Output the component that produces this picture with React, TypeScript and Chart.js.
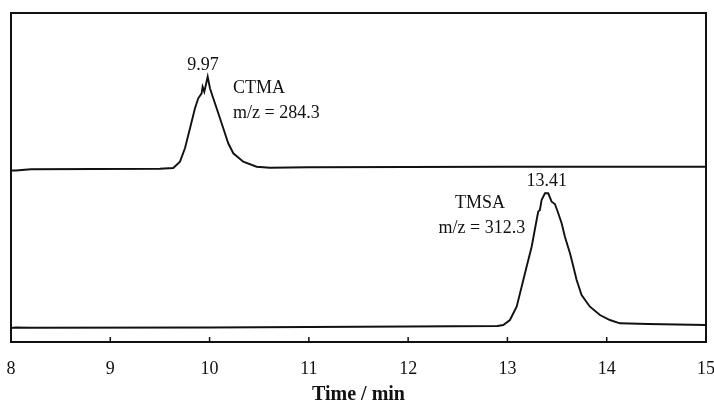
import React, { useEffect, useRef } from "react";
import { Chart, registerables } from "chart.js";

Chart.register(...registerables);

// Top trace: CTMA, m/z = 284.3
const timeTop = [8.0, 8.05, 8.2, 9.5, 9.634, 9.702, 9.752, 9.803, 9.853, 9.886, 9.92, 9.93, 9.947, 9.981, 10.004, 10.037, 10.088, 10.138, 10.188, 10.239, 10.339, 10.474, 10.608, 11.0, 12.0, 13.0, 15.0];
const intensityTop = [171.5, 171.5, 172.7, 173.2, 174, 180.3, 193.7, 213.7, 233.7, 243.7, 248.7, 255.3, 250.3, 265.3, 253.7, 243.7, 228.7, 213.7, 198.7, 188.7, 180.3, 175.3, 174.3, 174.7, 175, 175.2, 175.3];

// Bottom trace: TMSA, m/z = 312.3
const timeBottom = [8.0, 8.05, 8.2, 10.0, 11.0, 12.0, 12.9, 12.958, 13.025, 13.093, 13.143, 13.193, 13.244, 13.294, 13.31, 13.327, 13.344, 13.378, 13.411, 13.445, 13.478, 13.512, 13.546, 13.579, 13.63, 13.66, 13.697, 13.747, 13.831, 13.932, 14.032, 14.133, 14.418, 15.0];
const intensityBottom = [14, 14.5, 14.3, 14.5, 15, 15.5, 16, 17, 22, 35.3, 55.3, 75.3, 95.3, 122, 130.3, 132, 142, 148.7, 148.7, 140.3, 138, 128.7, 118.7, 105.3, 88.7, 77, 62, 47, 35.3, 27, 22, 18.7, 18, 17];

const xTicks = [8, 9, 10, 11, 12, 13, 14, 15];

// Annotations
const noteTexts = ["9.97", "CTMA", "m/z = 284.3", "TMSA", "m/z = 312.3", "13.41"];
const noteTimes = [9.934, 10.236, 10.236, 12.723, 12.743, 13.395];
const noteIntensities = [277, 254, 229, 139, 114, 160.3];
const noteAligns = ["center", "left", "left", "center", "center", "center"];

const SERIF = "'Liberation Serif', 'Times New Roman', serif";

export default function App() {
  const ref = useRef<HTMLCanvasElement | null>(null);

  useEffect(() => {
    document.body.style.margin = "0";
    const canvas = ref.current;
    if (!canvas) return;

    const notesPlugin = {
      id: "notes",
      afterDatasetsDraw(chart: any) {
        const ctx = chart.ctx;
        const xs = chart.scales.x;
        const ys = chart.scales.y;
        ctx.save();
        // inward tick marks
        ctx.strokeStyle = "#111";
        ctx.lineWidth = 1.5;
        xTicks.forEach((t) => {
          const px = xs.getPixelForValue(t);
          ctx.beginPath();
          ctx.moveTo(px, ys.bottom);
          ctx.lineTo(px, ys.bottom - 5);
          ctx.stroke();
        });
        ctx.fillStyle = "#111";
        ctx.font = `18px ${SERIF}`;
        ctx.textBaseline = "middle";
        noteTexts.forEach((txt, i) => {
          ctx.textAlign = noteAligns[i] as CanvasTextAlign;
          ctx.fillText(txt, xs.getPixelForValue(noteTimes[i]), ys.getPixelForValue(noteIntensities[i]));
        });
        ctx.restore();
      },
    };

    const borderOpts = { display: true, color: "#111", width: 2 };
    const noPad = (s: any) => {
      s.paddingLeft = 0;
      s.paddingRight = 0;
      s.paddingTop = 0;
      s.paddingBottom = 0;
    };

    const chart = new Chart(canvas, {
      type: "line",
      data: {
        datasets: [
          {
            label: "CTMA",
            data: timeTop.map((t, i) => ({ x: t, y: intensityTop[i] })),
            borderColor: "#111",
            borderWidth: 1.9,
            pointRadius: 0,
            tension: 0,
            fill: false,
          },
          {
            label: "TMSA",
            data: timeBottom.map((t, i) => ({ x: t, y: intensityBottom[i] })),
            borderColor: "#111",
            borderWidth: 1.9,
            pointRadius: 0,
            tension: 0,
            fill: false,
          },
        ],
      },
      options: {
        animation: false,
        responsive: false,
        layout: { padding: 0 },
        plugins: { legend: { display: false }, tooltip: { enabled: false } },
        scales: {
          x: {
            type: "linear",
            position: "bottom",
            min: 8,
            max: 15,
            afterBuildTicks: (s: any) => {
              s.ticks = xTicks.map((v) => ({ value: v }));
            },
            ticks: {
              color: "#111",
              font: { family: SERIF, size: 18 },
              padding: 16,
              maxRotation: 0,
            },
            grid: { display: false, drawTicks: false },
            border: borderOpts,
            title: {
              display: true,
              text: "Time / min",
              color: "#111",
              font: { family: SERIF, size: 20, weight: "bold" },
              padding: { top: 0, bottom: -4 },
            },
            afterFit: (s: any) => {
              s.height = 61;
              noPad(s);
            },
          },
          x2: {
            type: "linear",
            position: "top",
            min: 8,
            max: 15,
            ticks: { display: false },
            grid: { display: false, drawTicks: false },
            border: borderOpts,
            afterFit: (s: any) => {
              s.height = 13;
              noPad(s);
            },
          },
          y: {
            type: "linear",
            position: "left",
            min: 0,
            max: 329,
            ticks: { display: false },
            grid: { display: false, drawTicks: false },
            border: borderOpts,
            afterFit: (s: any) => {
              s.width = 11;
              noPad(s);
            },
          },
          y2: {
            type: "linear",
            position: "right",
            min: 0,
            max: 329,
            ticks: { display: false },
            grid: { display: false, drawTicks: false },
            border: borderOpts,
            afterFit: (s: any) => {
              s.width = 8;
              noPad(s);
            },
          },
        },
      } as any,
      plugins: [notesPlugin],
    });

    return () => chart.destroy();
  }, []);

  return (
    <div style={{ position: "fixed", left: 0, top: 0, width: 714, height: 403, background: "#fff" }}>
      <canvas ref={ref} width={714} height={403} />
    </div>
  );
}
